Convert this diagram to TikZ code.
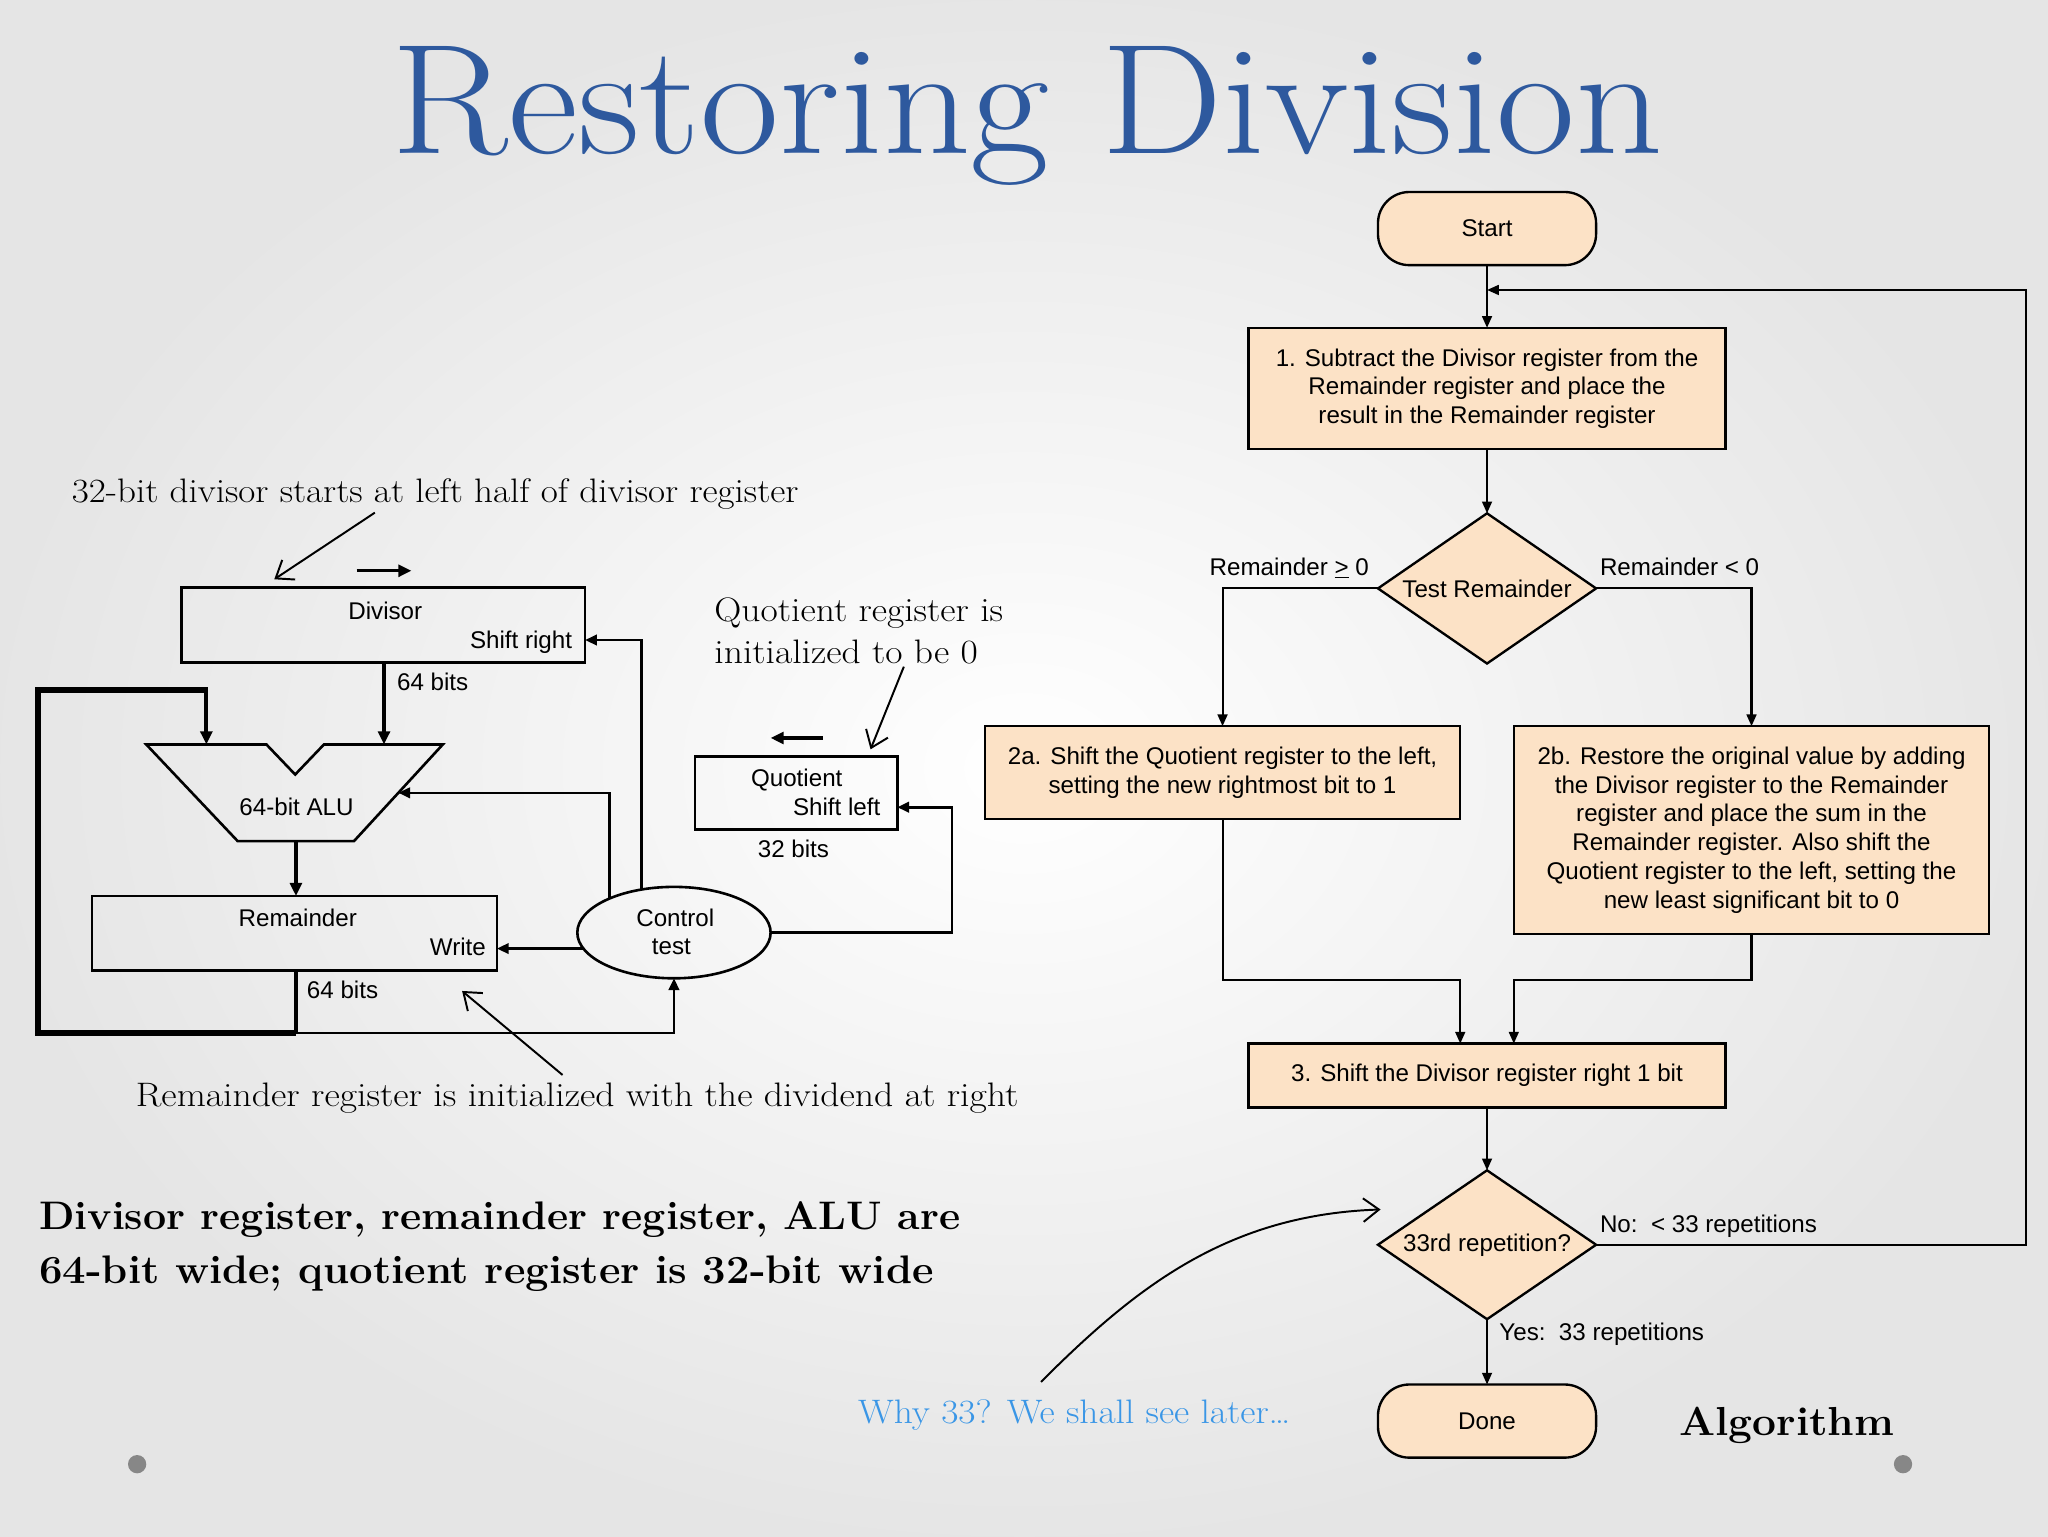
\documentclass[tikz,border=0pt]{standalone}
\usepackage{fontspec}
\usepackage{graphicx}
\setsansfont{Liberation Sans}
\usetikzlibrary{shapes.geometric,arrows.meta,calc}
\definecolor{peach}{RGB}{252,226,198}
\definecolor{titleblue}{RGB}{46,89,158}
\definecolor{whyblue}{RGB}{58,150,230}
\definecolor{dotgray}{RGB}{135,135,135}
\newcommand{\hstretch}[2]{\scalebox{#1}[1]{#2}}
\begin{document}
\begin{tikzpicture}[x=1pt,y=-1pt,
  every node/.style={inner sep=0pt, outer sep=0pt},
  ftxt/.style={font=\sffamily\fontsize{18.5}{22}\selectfont},
  fbox/.style={ftxt, draw, line width=1.8pt, fill=peach, align=center},
  proc/.style={fbox, rectangle},
  term/.style={fbox, rectangle, rounded corners=24pt, minimum width=167pt, minimum height=56pt},
  dec/.style={fbox, diamond, aspect=1.45, minimum width=167pt, minimum height=115pt},
  arr/.style={line width=1.6pt, -{Triangle[length=9pt,width=7.5pt]}},
  reg/.style={draw, line width=2pt, rectangle},
  medarr/.style={line width=2pt, -{Triangle[length=9pt,width=8pt]}},
  thickline/.style={line width=3pt},
  thickarr/.style={line width=3pt, -{Triangle[length=10pt,width=9pt]}},
  loopline/.style={line width=4.5pt, line join=miter},
  annarr/.style={line width=1.5pt, -{Straight Barb[length=12pt,width=18pt]}},
  ann/.style={font=\fontsize{26}{31.9}\selectfont},
  boldtxt/.style={font=\bfseries\fontsize{30.5}{41}\selectfont},
  titlefont/.style={font=\fontsize{120}{130}\selectfont\addfontfeature{FakeBold=0.6}}
]
% background
\shade[inner color=white, outer color=black!10] (0,0) rectangle (1568,1176);
\useasboundingbox (0,0) rectangle (1568,1176);

% title
\node[titlefont, text=titleblue, anchor=base west] (title) at (300,117.4) {\hstretch{1.095}{Restoring Division}};

% ---------------- flowchart ----------------
\node[term] (start) at (1138.5,175) {Start};
\node[proc, minimum width=365pt, minimum height=93pt] (s1) at (1138.5,297.5)
  {1. Subtract the Divisor register from the\\Remainder register and place the\\result in the Remainder register};
\node[dec] (test) at (1138.5,450.5) {Test Remainder};
\node[proc, minimum width=364pt, minimum height=71pt] (s2a) at (936,591.5)
  {2a. Shift the Quotient register to the left,\\setting the new rightmost bit to 1};
\node[proc, minimum width=364pt, minimum height=159pt] (s2b) at (1341,635.5)
  {2b. Restore the original value by adding\\the Divisor register to the Remainder\\register and place the sum in the\\Remainder register. Also shift the\\Quotient register to the left, setting the\\new least significant bit to 0};
\node[proc, minimum width=365pt, minimum height=49pt] (s3) at (1138.5,823.5)
  {3. Shift the Divisor register right 1 bit};
\node[dec, minimum height=114pt] (rep) at (1138.5,953) {33rd repetition?};
\node[term] (done) at (1138.5,1088) {Done};

\coordinate (loopR) at (1551,222);
\coordinate (joinA) at (1138.5,222);
\coordinate (m1) at (1118,750);
\coordinate (m2) at (1159,750);
\draw[arr] (start) -- (s1);
\draw[arr] (rep.east) -| (loopR) -- (joinA);
\draw[arr] (s1) -- (test);
\draw[arr] (test.west) -| (s2a.north);
\draw[arr] (test.east) -| (s2b.north);
\draw[arr] (s2a.south) |- (m1) -- (m1 |- s3.north);
\draw[arr] (s2b.south) |- (m2) -- (m2 |- s3.north);
\draw[arr] (s3) -- (rep);
\draw[arr] (rep) -- (done);

\node[ftxt, anchor=base east] (lge) at (1048,440.6) {Remainder \underline{>} 0};
\node[ftxt, anchor=base west] (llt) at (1225,440.6) {Remainder < 0};
\node[ftxt, anchor=base west] (lno) at (1225,943.6) {No:\ \ < 33 repetitions};
\node[ftxt, anchor=base west] (lyes) at (1148,1026.6) {Yes:\ \ 33 repetitions};

% ---------------- datapath ----------------
\node[reg, minimum width=309pt, minimum height=57pt] (divisor) at (293.5,478.5) {};
\node[reg, minimum width=310pt, minimum height=57pt] (remainder) at (225.5,714.5) {};
\node[reg, minimum width=155pt, minimum height=56pt] (quotient) at (609.5,607) {};
\node[ellipse, draw, line width=2pt, minimum width=148pt, minimum height=70pt] (control) at (516,714) {};
\draw[line width=2pt, line join=miter] (112,570) -- (204,570) -- (226,593) -- (248,570) -- (339,570) -- (271,644) -- (182,644) -- cycle;
\coordinate (aluL) at (158,570);
\coordinate (aluM) at (294,570);
\coordinate (aluB) at (226.6,644);
\coordinate (aluR) at (305,607);

\node[ftxt, anchor=base] (tDiv) at (295,474.6) {Divisor};
\node[ftxt, anchor=base east] (tSR) at (438,496.4) {Shift right};
\node[ftxt, anchor=base west] (t64a) at (304,528.8) {64 bits};
\node[ftxt, anchor=base] (tALU) at (227,624) {64-bit ALU};
\node[ftxt, anchor=base] (tRem) at (228,709.4) {Remainder};
\node[ftxt, anchor=base east] (tW) at (372,731.9) {Write};
\node[ftxt, anchor=base west] (t64b) at (235,764.3) {64 bits};
\node[ftxt, anchor=base] (tC1) at (517,709.4) {Control};
\node[ftxt, anchor=base] (tC2) at (514,731) {test};
\node[ftxt, anchor=base] (tQ) at (610,602.3) {Quotient};
\node[ftxt, anchor=base east] (tSL) at (674,624) {Shift left};
\node[ftxt, anchor=base] (t32) at (607.5,656.4) {32 bits};

\coordinate (rb) at (226.6,791);
\coordinate (lb) at (29,791);
\coordinate (lt) at (29,528);
\coordinate (lt2) at (159.5,528);
\coordinate (divR) at (448,490);
\coordinate (qc) at (729,618);

\draw[thickarr] (divisor.south -| aluM) -- (aluM);
\draw[thickarr] (aluB) -- (aluB |- remainder.north);
\draw[thickline] (remainder.south -| rb) -- (rb);
\draw[loopline] (rb) -- (lb) -- (lt) -- (lt2);
\draw[thickarr] (aluL |- lt2) -- (aluL);
\draw[medarr] (rb) -| (control.south);
\draw[medarr] (control.190) -- (control.190 -| remainder.east);
\draw[medarr] (control.152.7) |- (aluR);
\draw[medarr] (control.127.7) |- (divR);
\draw[medarr] (control.east) -| (qc) -- (qc -| quotient.east);

% shift direction arrows
\coordinate (da1) at (273,437);
\coordinate (da2) at (315,437);
\coordinate (qa1) at (630,565);
\coordinate (qa2) at (590,565);
\draw[thickarr, line width=2.5pt] (da1) -- (da2);
\draw[thickarr, line width=2.5pt] (qa1) -- (qa2);

% annotations
\node[ann, anchor=base west] (n1) at (55,384.8) {\hstretch{1.092}{32-bit divisor starts at left half of divisor register}};
\node[ann, anchor=base west] (n2a) at (547,476) {\hstretch{1.105}{Quotient register is}};
\node[ann, anchor=base west] (n2b) at (547,507.9) {\hstretch{1.105}{initialized to be 0}};
\node[ann, anchor=base west] (n3) at (104,847.5) {\hstretch{1.11}{Remainder register is initialized with the dividend at right}};
\node[boldtxt, anchor=base west] (bt1) at (30,941.7) {\hstretch{1.034}{Divisor register, remainder register, ALU are}};
\node[boldtxt, anchor=base west] (bt2) at (30,982.5) {\hstretch{1.05}{64-bit wide; quotient register is 32-bit wide}};
\node[ann, text=whyblue, anchor=base west] (why) at (657,1089.7) {\hstretch{1.1}{Why 33? We shall see later\ldots}};
\node[boldtxt, font=\bfseries\fontsize{31}{36}\selectfont, anchor=base west] (alg) at (1285.6,1098.7) {\hstretch{1.05}{Algorithm}};

\coordinate (a1s) at (287,392.5);
\coordinate (a1e) at (210,443.5);
\coordinate (a2s) at (692,510.4);
\coordinate (a2e) at (666.5,573.7);
\coordinate (a3s) at (430.7,823);
\coordinate (a3e) at (353.8,758.7);
\coordinate (a4s) at (797,1058);
\coordinate (a4e) at (1057,926);
\draw[annarr] (a1s) -- (a1e);
\draw[annarr] (a2s) -- (a2e);
\draw[annarr] (a3s) -- (a3e);
\draw[annarr] (a4s) .. controls (870,985) and (940,930) .. (a4e);

% slide bullets
\fill[dotgray] (105,1121) circle (7pt);
\fill[dotgray] (1457,1121) circle (7pt);
\end{tikzpicture}
\end{document}
